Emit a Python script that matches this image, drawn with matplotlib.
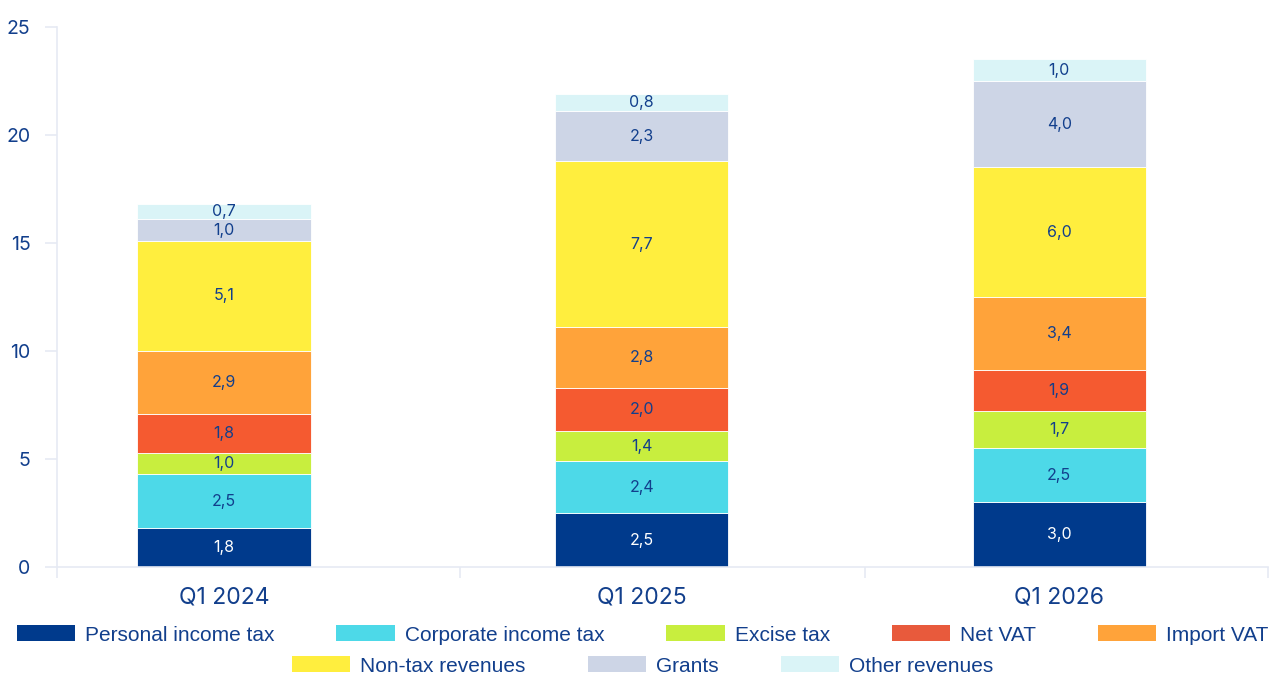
import matplotlib.pyplot as plt
from matplotlib.patches import Patch
import numpy as np

# Revenue structure, bn
quarters = ["Q1 2024", "Q1 2025", "Q1 2026"]
categories = ["Personal income tax", "Corporate income tax", "Excise tax", "Net VAT",
              "Import VAT", "Non-tax revenues", "Grants", "Other revenues"]
personal_income_tax = [1.8, 2.5, 3.0]
corporate_income_tax = [2.5, 2.4, 2.5]
excise_tax = [1.0, 1.4, 1.7]
net_vat = [1.8, 2.0, 1.9]
import_vat = [2.9, 2.8, 3.4]
non_tax_revenues = [5.1, 7.7, 6.0]
grants = [1.0, 2.3, 4.0]
other_revenues = [0.7, 0.8, 1.0]

series = [personal_income_tax, corporate_income_tax, excise_tax, net_vat,
          import_vat, non_tax_revenues, grants, other_revenues]
colors = ["#003A8C", "#4DD9E8", "#C8EE3E", "#F55A30",
          "#FFA33A", "#FFEE3E", "#CDD5E6", "#DAF4F7"]
legend_colors = ["#003A8C", "#4DD9E8", "#C8EE3E", "#E85A3C",
                 "#FFA33A", "#FFEE3E", "#CDD5E6", "#DAF4F7"]
text_color = "#123F8C"
axis_color = "#E6EAF3"

plt.rcParams["font.family"] = ["Inter", "DejaVu Sans"]

fig = plt.figure(figsize=(12.75, 6.75), dpi=100)
ax = fig.add_axes([57 / 1275, 108 / 675, 1211 / 1275, 540 / 675])

x = np.arange(len(quarters))
bottom = np.zeros(len(quarters))
for name, vals, col in zip(categories, series, colors):
    vals = np.array(vals)
    ax.bar(x, vals, width=0.415, bottom=bottom, color=col,
           edgecolor="white", linewidth=0.6, label=name)
    lab_col = "white" if col == "#003A8C" else text_color
    for xi, b, v in zip(x, bottom, vals):
        ax.text(xi, b + v / 2, f"{v:.1f}".replace(".", ","), ha="center",
                va="center", fontsize=11.5, color=lab_col)
    bottom += vals

ax.set_xlim(-0.4, 2.5)
ax.set_ylim(0, 25)
ax.set_yticks([0, 5, 10, 15, 20, 25])
ax.set_xticks(x)
ax.set_xticklabels(quarters)
ax.set_xticks([-0.4, 0.565, 1.535, 2.5], minor=True)

for s in ["top", "right"]:
    ax.spines[s].set_visible(False)
for s in ["left", "bottom"]:
    ax.spines[s].set_color(axis_color)
    ax.spines[s].set_linewidth(1.2)

ax.tick_params(axis="y", colors=axis_color, labelcolor=text_color, labelsize=14,
               length=9, width=1.2, pad=10)
ax.tick_params(axis="x", which="major", length=0, labelcolor=text_color,
               labelsize=16.5, pad=14)
ax.tick_params(axis="x", which="minor", colors=axis_color, length=8, width=1.2)

handles = [Patch(facecolor=c, label=n) for c, n in zip(legend_colors, categories)]
leg_kw = dict(frameon=False, handlelength=2.8, handleheight=0.8,
              handletextpad=0.48, columnspacing=2.97, borderaxespad=0,
              labelcolor=text_color,
              prop={"family": ["Liberation Sans", "DejaVu Sans"], "size": 15})
fig.legend(handles=handles[:5], ncol=5, loc="center",
           bbox_to_anchor=(0.504, 1 - 635 / 675), **leg_kw)
fig.legend(handles=handles[5:], ncol=3, loc="center",
           bbox_to_anchor=(0.504, 1 - 666 / 675), **leg_kw)

fig.savefig("out.png", dpi=100)
